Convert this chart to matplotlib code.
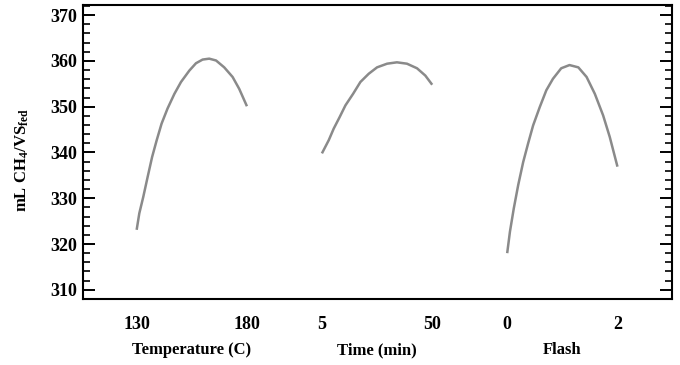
import matplotlib
matplotlib.use("Agg")
import matplotlib.pyplot as plt
from matplotlib.ticker import MultipleLocator
from matplotlib.transforms import blended_transform_factory

plt.rcParams['font.family'] = ['Liberation Serif', 'DejaVu Serif']
plt.rcParams['font.weight'] = 'bold'
plt.rcParams['mathtext.fontset'] = 'custom'
plt.rcParams['mathtext.rm'] = 'Liberation Serif:bold'
plt.rcParams['mathtext.it'] = 'Liberation Serif:bold'
plt.rcParams['mathtext.bf'] = 'Liberation Serif:bold'

# Factor names, ranges and tick labels
factors = ["Temperature (C)", "Time (min)", "Flash"]
factor_low = [130, 5, 0]
factor_high = [180, 50, 2]
tick_labels = [["130", "180"], ["5", "50"], ["0", "2"]]

# Main effect curves
temp_x = [130, 131.2, 133.0, 135.0, 137.0, 139.1, 141.3, 144.0, 147.1, 150.1,
          153.9, 156.9, 159.9, 162.9, 166.0, 169.7, 173.5, 176.5, 180]
temp_y = [323.1, 326.7, 330.3, 334.7, 339.0, 342.7, 346.3, 349.6, 352.8, 355.4,
          357.9, 359.5, 360.3, 360.5, 360.1, 358.6, 356.5, 353.9, 350.1]

time_x = [5, 7.8, 9.8, 12.2, 14.6, 17.7, 20.7, 24.1, 27.5, 31.6, 35.6, 39.7,
          43.8, 47.2, 50]
time_y = [339.8, 342.7, 345.2, 347.7, 350.3, 352.8, 355.4, 357.2, 358.6, 359.4,
          359.7, 359.4, 358.4, 356.8, 354.8]

flash_x = [0, 0.05, 0.12, 0.20, 0.29, 0.38, 0.47, 0.59, 0.71, 0.83, 0.98, 1.13,
           1.29, 1.44, 1.59, 1.74, 1.86, 2.0]
flash_y = [318.0, 322.7, 327.8, 332.9, 337.9, 342.0, 345.9, 349.9, 353.6, 356.1,
           358.4, 359.1, 358.6, 356.5, 352.8, 348.1, 343.4, 336.9]

curves_x = [temp_x, time_x, flash_x]
curves_y = [temp_y, time_y, flash_y]
seg_offsets = [0.0, 1.68, 3.36]

fig = plt.figure(figsize=(6.8, 3.65), dpi=100)
ax = fig.add_axes([0.1215, 0.181, 0.866, 0.805])

for xs, ys, lo, hi, off in zip(curves_x, curves_y, factor_low, factor_high, seg_offsets):
    px = [(x - lo) / (hi - lo) + off for x in xs]
    ax.plot(px, ys, color='#8a8a8a', lw=1.8, solid_capstyle='butt',
            solid_joinstyle='round')

ax.set_xlim(-0.49, 4.85)
ax.set_ylim(308, 372.2)

ticks, labels = [], []
for off, tl in zip(seg_offsets, tick_labels):
    ticks += [off, off + 1]
    labels += tl
ax.set_xticks(ticks)
ax.set_xticklabels(labels, fontsize=13, fontweight='bold')
ax.tick_params(axis='x', length=0, pad=12)

ax.yaxis.set_major_locator(MultipleLocator(10))
ax.yaxis.set_minor_locator(MultipleLocator(2))
ax.tick_params(axis='y', which='major', direction='in', length=8.5, width=1.4,
               right=True, labelsize=13, pad=4)
ax.tick_params(axis='y', which='minor', direction='in', length=5, width=1.2, right=True)
for lab in ax.get_yticklabels():
    lab.set_fontweight('bold')

for sp in ax.spines.values():
    sp.set_linewidth(1.5)

trans = blended_transform_factory(ax.transData, fig.transFigure)
for off, name in zip(seg_offsets, factors):
    fig.text(off + 0.5, 1 - 350 / 365, name, transform=trans, ha='center', va='center',
             fontsize=12, fontweight='bold')

fig.text(22 / 680, 1 - 160 / 365, r'mL CH$_4$/VS$_{\mathrm{fed}}$', rotation=90,
         ha='center', va='center', fontsize=12, fontweight='bold')

fig.savefig("out.png", dpi=100)
